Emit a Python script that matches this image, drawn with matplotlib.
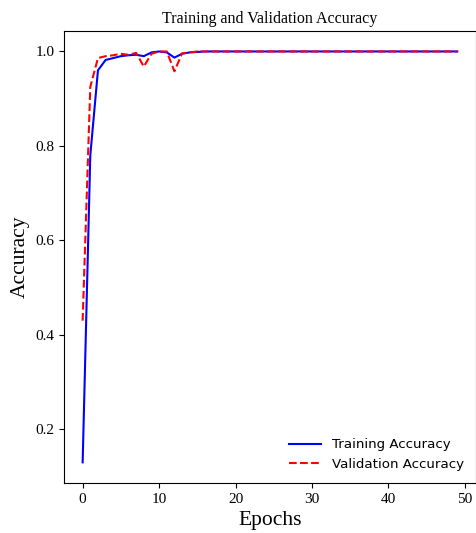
import matplotlib
matplotlib.use("Agg")
import matplotlib.pyplot as plt

epochs = list(range(50))
train_acc = [0.13, 0.78, 0.96, 0.982, 0.986, 0.99, 0.992, 0.993, 0.99, 0.998,
             1.0, 0.998, 0.987, 0.995, 0.998, 0.999, 1.0] + [1.0] * 33
val_acc = [0.43, 0.925, 0.986, 0.99, 0.992, 0.995, 0.993, 0.997, 0.968, 0.995,
           1.0, 1.0, 0.958, 0.996, 0.998, 1.0, 1.0] + [1.0] * 33

serif = ["Liberation Serif", "DejaVu Serif"]

fig = plt.figure(figsize=(4.77, 5.33), dpi=100)
ax = fig.add_axes([0.134, 0.094, 0.864, 0.848])
ax.plot(epochs, train_acc, color="b", lw=1.5, label="Training Accuracy")
ax.plot(epochs, val_acc, color="r", lw=1.5, ls="--", label="Validation Accuracy")

ax.set_title("Training and Validation Accuracy", family=serif, fontsize=11.5)
ax.set_xlabel("Epochs", family=serif, fontsize=15.5)
ax.set_ylabel("Accuracy", family=serif, fontsize=15.5)
ax.set_xticks([0, 10, 20, 30, 40, 50])
ax.set_yticks([0.2, 0.4, 0.6, 0.8, 1.0])
for lab in ax.get_xticklabels() + ax.get_yticklabels():
    lab.set_family(serif)
    lab.set_fontsize(11)
ax.legend(loc="lower right", frameon=False, fontsize=9.6, handlelength=2.4)

fig.savefig("out.png", dpi=100)
